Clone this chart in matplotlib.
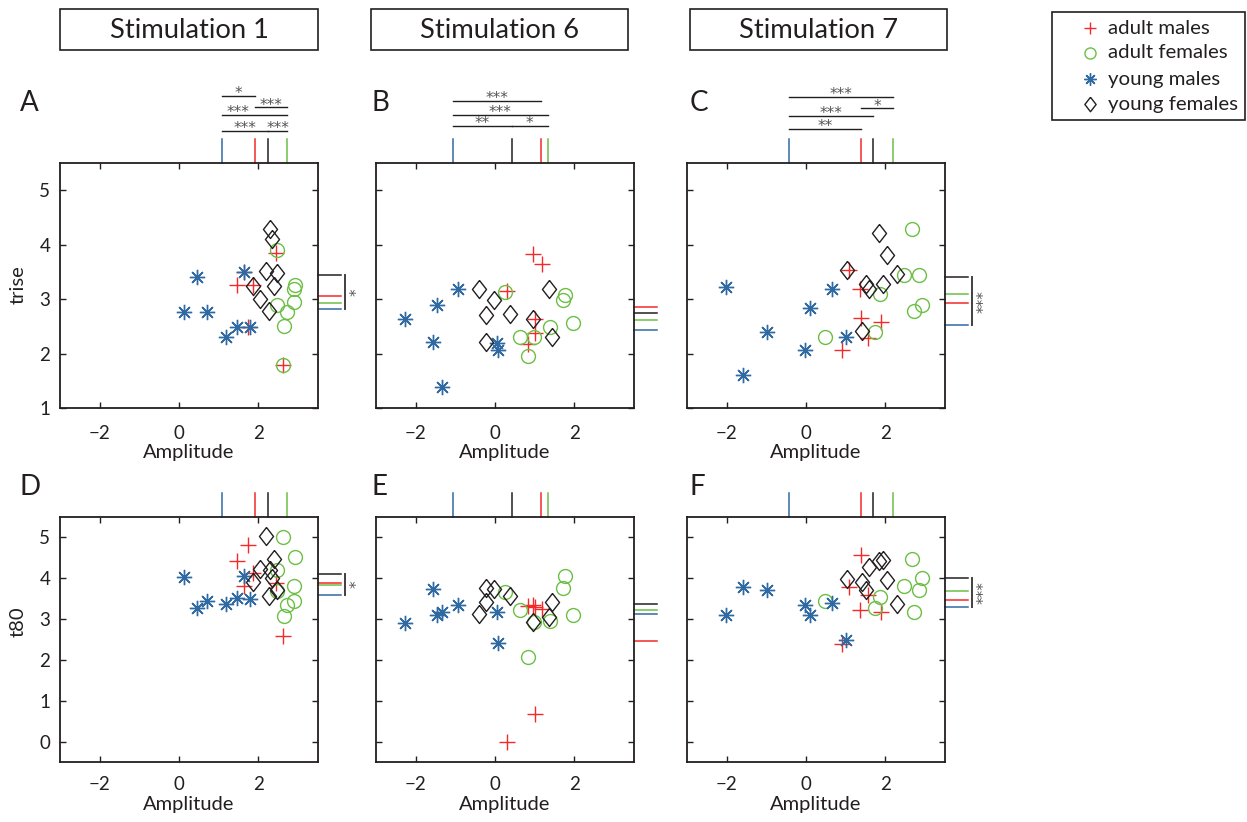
import numpy as np
import matplotlib.pyplot as plt
from matplotlib.lines import Line2D
from matplotlib.patches import Rectangle

plt.rcParams['font.family'] = ['Lato', 'DejaVu Sans']

# --- data ---
stim_titles = ['Stimulation 1', 'Stimulation 6', 'Stimulation 7']
group_labels = ['adult males', 'adult females', 'young males', 'young females']

# Stimulation 1
amp1_am = [2.44, 1.45, 1.64, 1.85, 1.74, 2.61]
trise1_am = [3.84, 3.25, 3.50, 3.25, 2.48, 1.79]
t80_1_am = [3.88, 4.42, 3.80, 4.12, 4.81, 2.59]
amp1_af = [2.46, 2.92, 2.90, 2.90, 2.46, 2.71, 2.65, 2.62]
trise1_af = [3.90, 3.25, 3.18, 2.94, 2.90, 2.76, 2.50, 1.79]
t80_1_af = [4.20, 4.51, 3.80, 3.44, 3.68, 3.35, 3.07, 5.02]
amp1_ym = [0.46, 1.64, 0.12, 0.71, 1.45, 1.79, 1.19]
trise1_ym = [3.40, 3.50, 2.76, 2.76, 2.48, 2.48, 2.30]
t80_1_ym = [3.27, 4.06, 4.04, 3.44, 3.52, 3.48, 3.38]
amp1_yf = [2.29, 2.35, 2.20, 2.46, 1.85, 2.39, 2.03, 2.27]
trise1_yf = [4.28, 4.11, 3.51, 3.48, 3.24, 3.24, 3.01, 2.79]
t80_1_yf = [4.20, 4.00, 5.03, 3.72, 3.92, 4.48, 4.22, 3.57]

# Stimulation 6
amp6_am = [0.96, 1.19, 0.31, 1.01, 1.01, 0.84]
trise6_am = [3.82, 3.65, 3.15, 2.64, 2.37, 2.17]
t80_6_am = [3.35, 3.24, -0.01, 0.68, 3.30, 3.31]
amp6_af = [0.24, 1.77, 1.71, 1.96, 1.39, 0.62, 0.97, 0.83]
trise6_af = [3.13, 3.08, 2.99, 2.57, 2.49, 2.31, 2.31, 1.95]
t80_6_af = [3.67, 4.06, 3.75, 3.09, 2.96, 3.22, 2.94, 2.08]
amp6_ym = [-2.28, -1.47, -0.93, -1.56, 0.06, 0.08, -1.33]
trise6_ym = [2.64, 2.90, 3.18, 2.21, 2.20, 2.07, 1.38]
t80_6_ym = [2.90, 3.10, 3.35, 3.73, 3.18, 2.41, 3.18]
amp6_yf = [-0.40, -0.03, -0.22, 0.37, 0.95, 1.36, -0.22, 1.44]
trise6_yf = [3.18, 2.99, 2.70, 2.72, 2.64, 3.18, 2.21, 2.30]
t80_6_yf = [3.13, 3.73, 3.75, 3.57, 2.94, 3.04, 3.43, 3.43]

# Stimulation 7
amp7_am = [1.07, 1.36, 1.39, 1.89, 1.57, 0.91]
trise7_am = [3.53, 3.18, 2.65, 2.58, 2.29, 2.07]
t80_7_am = [3.79, 3.22, 4.58, 3.18, 3.59, 2.39]
amp7_af = [2.66, 2.46, 2.84, 1.86, 2.92, 2.71, 1.74, 0.48]
trise7_af = [4.28, 3.44, 3.44, 3.10, 2.90, 2.78, 2.40, 2.31]
t80_7_af = [4.47, 3.81, 3.71, 3.55, 4.00, 3.17, 3.27, 3.44]
amp7_ym = [-2.02, -0.99, -1.58, 0.09, -0.03, 0.65, 1.01]
trise7_ym = [3.22, 2.40, 1.60, 2.83, 2.07, 3.18, 2.30]
t80_7_ym = [3.09, 3.71, 3.79, 3.09, 3.35, 3.40, 2.49]
amp7_yf = [1.84, 2.03, 1.03, 2.28, 1.50, 1.59, 1.93, 1.40]
trise7_yf = [4.22, 3.81, 3.53, 3.47, 3.27, 3.18, 3.27, 2.41]
t80_7_yf = [4.42, 3.96, 3.97, 3.37, 3.71, 4.28, 4.45, 3.92]

# group means shown as marks outside the axes (order: am, af, ym, yf)
amp_means = [[1.92, 2.73, 1.07, 2.24], [1.16, 1.33, -1.07, 0.42], [1.38, 2.20, -0.43, 1.69]]
trise_means = [[3.06, 2.92, 2.82, 3.44], [2.86, 2.61, 2.43, 2.75], [2.93, 3.09, 2.52, 3.40]]
t80_means = [[3.89, 3.84, 3.58, 4.11], [2.46, 3.22, 3.12, 3.37], [3.46, 3.68, 3.29, 4.00]]

# amplitude comparisons: (group a, group b, stars)
amp_sig = [
    [(2, 0, '*'), (0, 1, '***'), (2, 1, '***'), (2, 3, '***'), (3, 1, '***')],
    [(2, 0, '***'), (2, 1, '***'), (2, 3, '**'), (3, 1, '*')],
    [(2, 1, '***'), (0, 1, '*'), (2, 3, '***'), (2, 0, '**')],
]
amp_sig_levels = [
    [1.275, 1.227, 1.197, 1.132, 1.132],
    [1.254, 1.197, 1.152, 1.152],
    [1.271, 1.224, 1.193, 1.139],
]
# where the stars sit along each bar (0 = start, 1 = end)
amp_sig_textpos = [
    [0.5, 0.5, 0.25, 0.5, 0.5],
    [0.5, 0.5, 0.5, 0.5],
    [0.5, 0.5, 0.5, 0.5],
]
# right-side comparisons per stimulation: (group a, group b, stars) or None
trise_sig = [(3, 2, '*'), None, (3, 2, '***')]
t80_sig = [(3, 2, '*'), None, (3, 2, '***')]

amps = [[amp1_am, amp1_af, amp1_ym, amp1_yf],
        [amp6_am, amp6_af, amp6_ym, amp6_yf],
        [amp7_am, amp7_af, amp7_ym, amp7_yf]]
trises = [[trise1_am, trise1_af, trise1_ym, trise1_yf],
          [trise6_am, trise6_af, trise6_ym, trise6_yf],
          [trise7_am, trise7_af, trise7_ym, trise7_yf]]
t80s = [[t80_1_am, t80_1_af, t80_1_ym, t80_1_yf],
        [t80_6_am, t80_6_af, t80_6_ym, t80_6_yf],
        [t80_7_am, t80_7_af, t80_7_ym, t80_7_yf]]

# --- styles ---
red, green, blue, black = '#f42a2a', '#6cbf45', '#2f6aa3', '#231f20'
star_col = '#555555'
colors = [red, green, blue, black]
diamond = [(0, 1), (0.78, 0), (0, -1), (-0.78, 0), (0, 1)]
styles = [
    dict(marker='+', color=red, ms=11, mew=1.0),
    dict(marker='o', mfc='none', mec=green, ms=10, mew=1.0),
    dict(marker=(8, 2, 0), color=blue, ms=11, mew=1.0),
    dict(marker=diamond, mfc='none', mec=black, ms=13, mew=1.0),
]

W, H = 1247, 822
fig = plt.figure(figsize=(W / 100, H / 100), dpi=100)

col_left = [60, 376, 687]
letter_x = [20, 372, 690]
row_bottom = [408, 762]
letter_y = [103, 487]
xtick_pad = [12, 10]
ax_w, ax_h = 258, 245
letters = [['A', 'B', 'C'], ['D', 'E', 'F']]


def draw_panel(ax, amp, vals, amean, vmean, sig_top, sig_levels, sig_pos,
               sig_right):
    for g in range(4):
        ax.plot(amp[g], vals[g], ls='none', **styles[g])
    xt = ax.get_xaxis_transform()
    yt = ax.get_yaxis_transform()
    for g in range(4):
        ax.plot([amean[g], amean[g]], [1.0, 1.098], transform=xt,
                color=colors[g], lw=1.1, clip_on=False)
        ax.plot([1.0, 1.09], [vmean[g], vmean[g]], transform=yt,
                color=colors[g], lw=1.1, clip_on=False)
    if sig_top is not None:
        for (a, b, s), lev, f in zip(sig_top, sig_levels, sig_pos):
            x1, x2 = amean[a], amean[b]
            ax.plot([x1, x2], [lev, lev], transform=xt, color=black, lw=1,
                    clip_on=False)
            ax.annotate(s, xy=(x1 + f * (x2 - x1), lev), xycoords=xt,
                        xytext=(0, -1.8), textcoords='offset points',
                        ha='center', va='baseline', fontsize=11,
                        family='DejaVu Sans', color=star_col,
                        annotation_clip=False)
    if sig_right is not None:
        a, b, s = sig_right
        y1, y2 = vmean[a], vmean[b]
        ax.plot([1.104, 1.104], [y1, y2], transform=yt, color='#404040',
                lw=1.4, clip_on=False)
        ax.text(1.152, (y1 + y2) / 2, s, transform=yt, rotation=90,
                ha='center', va='center', fontsize=11, family='DejaVu Sans',
                color=star_col)


for r in range(2):
    for c in range(3):
        left = col_left[c]
        ax = fig.add_axes([left / W, 1 - row_bottom[r] / H, ax_w / W, ax_h / H])
        if r == 0:
            draw_panel(ax, amps[c], trises[c], amp_means[c], trise_means[c],
                       amp_sig[c], amp_sig_levels[c], amp_sig_textpos[c],
                       trise_sig[c])
            ax.set_ylim(1, 5.5)
            ax.set_yticks([1, 2, 3, 4, 5])
        else:
            draw_panel(ax, amps[c], t80s[c], amp_means[c], t80_means[c],
                       None, None, None, t80_sig[c])
            ax.set_ylim(-0.5, 5.5)
            ax.set_yticks([0, 1, 2, 3, 4, 5])
        ax.set_xlim(-3, 3.5)
        ax.set_xticks([-2, 0, 2])
        ax.tick_params(direction='in', top=True, right=True, length=4,
                       width=1, labelsize=13.5, colors=black)
        ax.tick_params(axis='x', pad=xtick_pad[r])
        ax.tick_params(axis='y', pad=7)
        if c > 0:
            ax.set_yticklabels([])
        for sp in ax.spines.values():
            sp.set_linewidth(1.3)
            sp.set_color(black)
        ax.set_xlabel('Amplitude', fontsize=14.5, labelpad=2, color=black)
        fig.text(letter_x[c] / W, 1 - letter_y[r] / H, letters[r][c],
                 fontsize=20, ha='left', va='center', color=black)

# y labels
fig.text(18 / W, 1 - 285 / H, 'trise', rotation=90, ha='center', va='center',
         fontsize=14.5, color=black)
fig.text(18 / W, 1 - 622 / H, 't80', rotation=90, ha='center', va='center',
         fontsize=14.5, color=black)

# title boxes
box_x = [(60, 318), (371, 628), (690, 947)]
for (x0, x1), t in zip(box_x, stim_titles):
    fig.patches.append(Rectangle((x0 / W, 1 - 50 / H), (x1 - x0) / W, 41 / H,
                                 transform=fig.transFigure, fill=False,
                                 lw=1.2, ec=black))
    fig.text((x0 + x1) / 2 / W, 1 - 31 / H, t, ha='center', va='center',
             fontsize=19.7, color=black)

# legend, drawn by hand to match the original box
fig.patches.append(Rectangle((1052 / W, 1 - 120 / H), 193 / W, 108 / H,
                             transform=fig.transFigure, fill=False,
                             lw=1.2, ec=black))
leg_y = [28, 53, 79, 104]
for st, lab, y in zip(styles, group_labels, leg_y):
    s = dict(st)
    s['ms'] = s['ms'] * 0.8
    fig.add_artist(Line2D([1090 / W], [1 - y / H], transform=fig.transFigure,
                          ls='none', **s))
    fig.text(1108 / W, 1 - y / H, lab, ha='left', va='center', fontsize=14.7,
             color=black)

fig.savefig('out.png', dpi=100)
